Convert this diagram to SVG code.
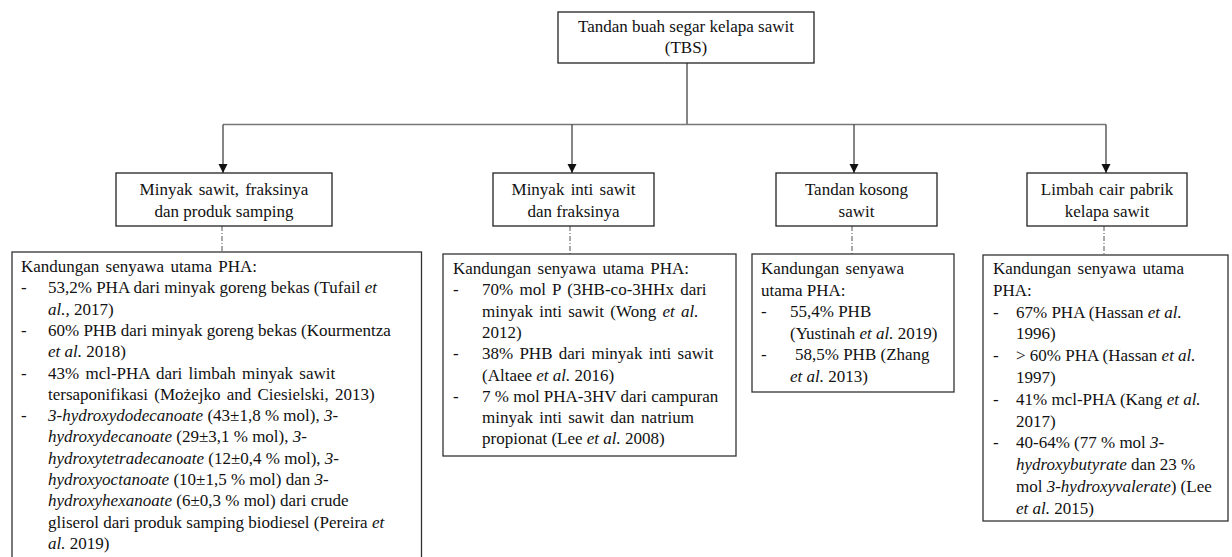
<svg xmlns="http://www.w3.org/2000/svg" width="1232" height="557" viewBox="0 0 1232 557">
<style>
text{font-family:"Liberation Serif","Times New Roman",serif;font-size:17px;fill:#111}
.c{text-anchor:middle}
.i{font-style:italic}
.box{fill:#fff;stroke:#222;stroke-width:1.3}
.dbox{fill:#fff;stroke:#333;stroke-width:1.3}
.ln{fill:none;stroke:#444;stroke-width:1.3}
.hl{fill:none;stroke:#777;stroke-width:1.6}
.dash{fill:none;stroke:#555;stroke-width:1;stroke-dasharray:5 2 1 2}
</style>
<defs>
<marker id="arr" markerUnits="userSpaceOnUse" markerWidth="10" markerHeight="10" refX="9" refY="4.5" orient="auto">
<path d="M0,0 L9,4.5 L0,9 Z" fill="#111"/>
</marker>
</defs>
<g id="connectors">
<line class="ln" x1="687" y1="63" x2="687" y2="125"/>
<line class="hl" x1="223" y1="124.5" x2="1106" y2="124.5"/>
<line class="ln" x1="223" y1="124.5" x2="223" y2="173" marker-end="url(#arr)"/>
<line class="ln" x1="572" y1="124.5" x2="572" y2="173" marker-end="url(#arr)"/>
<line class="ln" x1="854" y1="124.5" x2="854" y2="173" marker-end="url(#arr)"/>
<line class="ln" x1="1106" y1="124.5" x2="1106" y2="173" marker-end="url(#arr)"/>
<line class="dash" x1="222" y1="226" x2="222" y2="252"/>
<line class="dash" x1="570" y1="226" x2="570" y2="254"/>
<line class="dash" x1="852" y1="226" x2="852" y2="254"/>
<line class="dash" x1="1104" y1="226" x2="1104" y2="255"/>
</g>
<g id="tbs">
<rect class="box" x="558" y="12" width="256" height="51"/>
<text class="c" x="686" y="32">Tandan buah segar kelapa sawit</text>
<text class="c" x="686" y="53">(TBS)</text>
</g>
<g id="minyak-sawit">
<rect class="box" x="116" y="173" width="216" height="53"/>
<text class="c" x="224" y="195" word-spacing="2">Minyak sawit, fraksinya</text>
<text class="c" x="224" y="217">dan produk samping</text>
</g>
<g id="minyak-inti">
<rect class="box" x="493" y="173" width="161" height="53"/>
<text class="c" x="573.5" y="195" word-spacing="2">Minyak inti sawit</text>
<text class="c" x="573.5" y="217">dan fraksinya</text>
</g>
<g id="tandan-kosong">
<rect class="box" x="776" y="173" width="161" height="53"/>
<text class="c" x="856.5" y="195">Tandan kosong</text>
<text class="c" x="856.5" y="217">sawit</text>
</g>
<g id="limbah-cair">
<rect class="box" x="1027" y="173" width="160" height="53"/>
<text class="c" x="1107" y="195" word-spacing="1">Limbah cair pabrik</text>
<text class="c" x="1107" y="217">kelapa sawit</text>
</g>
<g id="detail-minyak-sawit">
<rect class="dbox" x="12" y="252" width="409.5" height="320"/>
<text x="21" y="272" word-spacing="2">Kandungan senyawa utama PHA:</text>
<text x="21" y="293.3">-</text><text x="48" y="293.3">53,2% PHA dari minyak goreng bekas (Tufail <tspan class="i">et</tspan></text>
<text x="48" y="314.6"><tspan class="i">al.,</tspan> 2017)</text>
<text x="21" y="335.9">-</text><text x="48" y="335.9">60% PHB dari minyak goreng bekas (Kourmentza</text>
<text x="48" y="357.2"><tspan class="i">et al.</tspan> 2018)</text>
<text x="21" y="378.5">-</text><text x="48" y="378.5" word-spacing="2">43% mcl-PHA dari limbah minyak sawit</text>
<text x="48" y="399.8" word-spacing="2">tersaponifikasi (Możejko and Ciesielski, 2013)</text>
<text x="21" y="421.1">-</text><text x="48" y="421.1"><tspan class="i">3-hydroxydodecanoate</tspan> (43±1,8 % mol), <tspan class="i">3-</tspan></text>
<text x="48" y="442.4"><tspan class="i">hydroxydecanoate</tspan> (29±3,1 % mol), <tspan class="i">3-</tspan></text>
<text x="48" y="463.7"><tspan class="i">hydroxytetradecanoate</tspan> (12±0,4 % mol), <tspan class="i">3-</tspan></text>
<text x="48" y="485"><tspan class="i">hydroxyoctanoate</tspan> (10±1,5 % mol) dan <tspan class="i">3-</tspan></text>
<text x="48" y="506.3"><tspan class="i">hydroxyhexanoate</tspan> (6±0,3 % mol) dari crude</text>
<text x="48" y="527.6">gliserol dari produk samping biodiesel (Pereira <tspan class="i">et</tspan></text>
<text x="48" y="548.9"><tspan class="i">al.</tspan> 2019)</text>
</g>
<g id="detail-minyak-inti">
<rect class="dbox" x="443" y="254" width="293" height="202"/>
<text x="453" y="274" word-spacing="2">Kandungan senyawa utama PHA:</text>
<text x="453" y="295.3">-</text><text x="482" y="295.3" word-spacing="2">70% mol P (3HB-co-3HHx dari</text>
<text x="482" y="316.6" word-spacing="2">minyak inti sawit (Wong <tspan class="i">et al.</tspan></text>
<text x="482" y="337.9">2012)</text>
<text x="453" y="359.2">-</text><text x="482" y="359.2" word-spacing="2">38% PHB dari minyak inti sawit</text>
<text x="482" y="380.5">(Altaee <tspan class="i">et al.</tspan> 2016)</text>
<text x="453" y="401.8">-</text><text x="482" y="401.8">7 % mol PHA-3HV dari campuran</text>
<text x="482" y="423.1" word-spacing="2">minyak inti sawit dan natrium</text>
<text x="482" y="444.4">propionat (Lee <tspan class="i">et al.</tspan> 2008)</text>
</g>
<g id="detail-tandan-kosong">
<rect class="dbox" x="752" y="254" width="202" height="138"/>
<text x="761" y="274" word-spacing="2">Kandungan senyawa</text>
<text x="761" y="295.6">utama PHA:</text>
<text x="761" y="317.2">-</text><text x="790" y="317.2">55,4% PHB</text>
<text x="790" y="338.8">(Yustinah <tspan class="i">et al.</tspan> 2019)</text>
<text x="761" y="360.4">-</text><text x="795" y="360.4">58,5% PHB (Zhang</text>
<text x="790" y="382"><tspan class="i">et al.</tspan> 2013)</text>
</g>
<g id="detail-limbah-cair">
<rect class="dbox" x="983" y="255" width="245" height="266"/>
<text x="993" y="274" word-spacing="2">Kandungan senyawa utama</text>
<text x="993" y="295.8">PHA:</text>
<text x="993" y="317.6">-</text><text x="1016" y="317.6">67% PHA (Hassan <tspan class="i">et al.</tspan></text>
<text x="1016" y="339.4">1996)</text>
<text x="993" y="361.2">-</text><text x="1016" y="361.2">&gt; 60% PHA (Hassan <tspan class="i">et al.</tspan></text>
<text x="1016" y="383">1997)</text>
<text x="993" y="404.8">-</text><text x="1016" y="404.8">41% mcl-PHA (Kang <tspan class="i">et al.</tspan></text>
<text x="1016" y="426.6">2017)</text>
<text x="993" y="448.4">-</text><text x="1016" y="448.4">40-64% (77 % mol <tspan class="i">3-</tspan></text>
<text x="1016" y="470.2"><tspan class="i">hydroxybutyrate</tspan> dan 23 %</text>
<text x="1016" y="492">mol <tspan class="i">3-hydroxyvalerate</tspan>) (Lee</text>
<text x="1016" y="513.8"><tspan class="i">et al.</tspan> 2015)</text>
</g>
</svg>
